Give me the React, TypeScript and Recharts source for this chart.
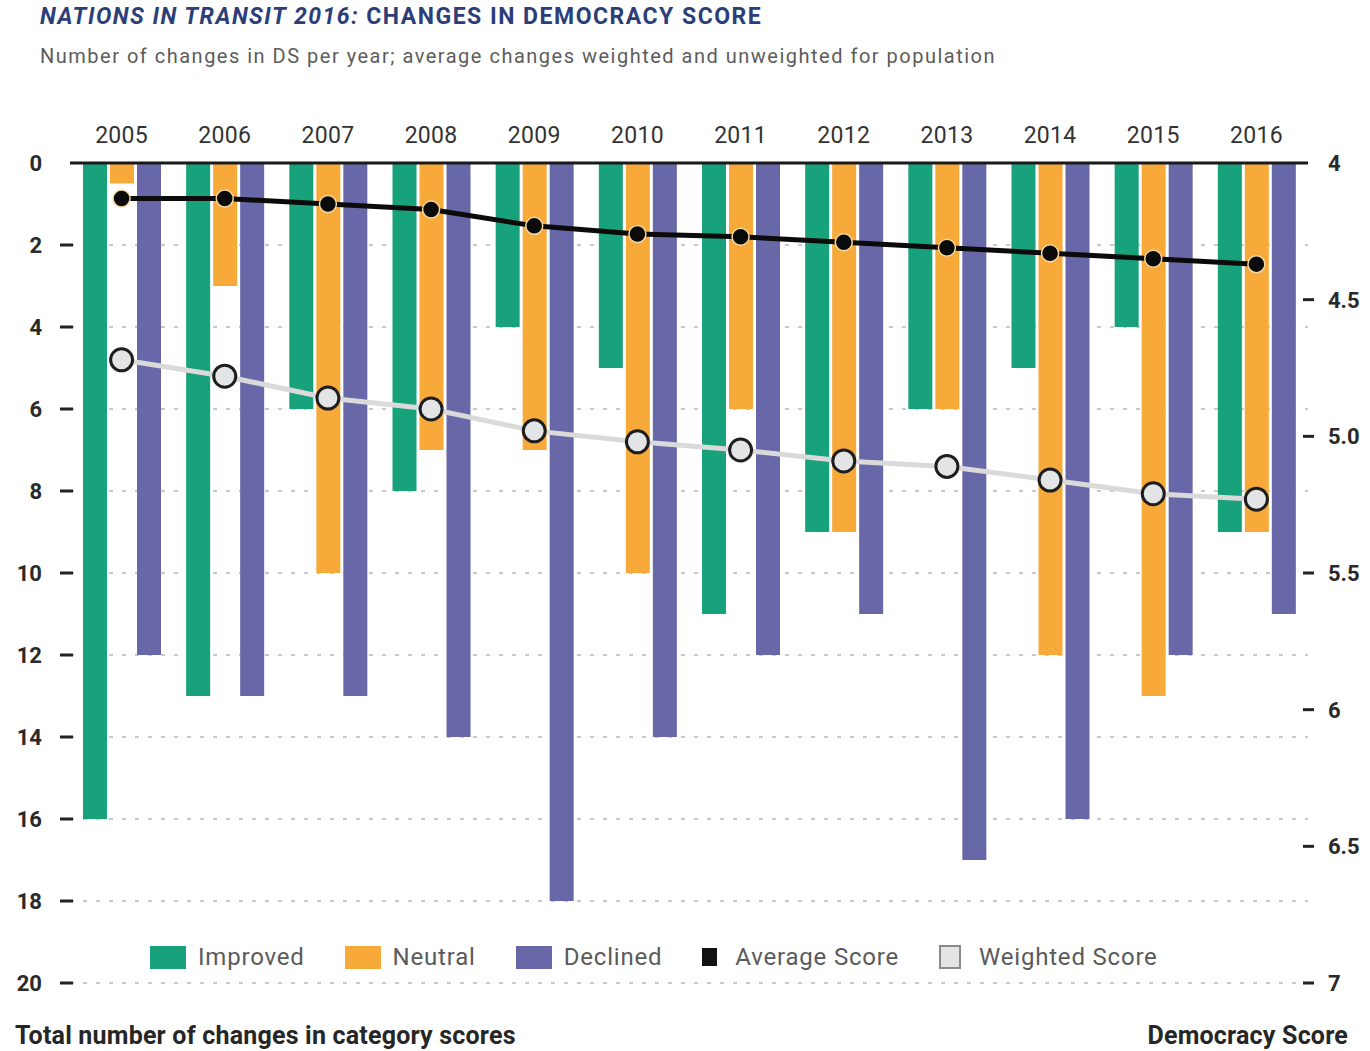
import React from "react";
import {
  Bar,
  CartesianGrid,
  ComposedChart,
  Line,
  XAxis,
  YAxis,
} from "recharts";

const years = ["2005", "2006", "2007", "2008", "2009", "2010", "2011", "2012", "2013", "2014", "2015", "2016"];
const improved = [16, 13, 6, 8, 4, 5, 11, 9, 6, 5, 4, 9];
const neutral = [0.5, 3, 10, 7, 7, 10, 6, 9, 6, 12, 13, 9];
const declined = [12, 13, 13, 14, 18, 14, 12, 11, 17, 16, 12, 11];
const averageScore = [4.13, 4.13, 4.15, 4.17, 4.23, 4.26, 4.27, 4.29, 4.31, 4.33, 4.35, 4.37];
const weightedScore = [4.72, 4.78, 4.86, 4.9, 4.98, 5.02, 5.05, 5.09, 5.11, 5.16, 5.21, 5.23];

const countTicks = [0, 2, 4, 6, 8, 10, 12, 14, 16, 18, 20];
const scoreTicks = [4, 4.5, 5, 5.5, 6, 6.5, 7];
const scoreTickLabels = ["4", "4.5", "5.0", "5.5", "6", "6.5", "7"];

const GREEN = "#17a27b";
const ORANGE = "#f7aa3a";
const PURPLE = "#6867a8";
const FONT = "Roboto, 'Open Sans', sans-serif";

const data = years.map((year, i) => ({
  year,
  improved: improved[i],
  neutral: neutral[i],
  declined: declined[i],
  average: averageScore[i],
  weighted: weightedScore[i],
}));

const legendItems = [
  { label: "Improved", kind: "bar", color: GREEN },
  { label: "Neutral", kind: "bar", color: ORANGE },
  { label: "Declined", kind: "bar", color: PURPLE },
  { label: "Average Score", kind: "avg", color: "#111" },
  { label: "Weighted Score", kind: "wtd", color: "#e4e4e4" },
];

function LeftTick(props: any) {
  const { x, y, payload } = props;
  return (
    <g>
      {payload.value !== 0 && (
        <line x1={x + 18} x2={x + 31} y1={y} y2={y} stroke="#222" strokeWidth={3} />
      )}
      <text x={x} y={y} dy={8} textAnchor="end" fontSize={22} fontWeight={700} fill="#2a2a2a" fontFamily={FONT}>
        {payload.value}
      </text>
    </g>
  );
}

function RightTick(props: any) {
  const { x, y, payload } = props;
  const idx = scoreTicks.indexOf(payload.value);
  return (
    <g>
      {payload.value !== 4 && (
        <line x1={x - 25} x2={x - 14} y1={y} y2={y} stroke="#222" strokeWidth={3} />
      )}
      <text x={x} y={y} dy={8} textAnchor="start" fontSize={22} fontWeight={700} fill="#2a2a2a" fontFamily={FONT}>
        {scoreTickLabels[idx]}
      </text>
    </g>
  );
}

function AvgDot(props: any) {
  const { cx, cy } = props;
  return <circle cx={cx} cy={cy} r={8.5} fill="#0b0b0b" stroke="#f3d9a0" strokeWidth={1.5} />;
}

function WeightedDot(props: any) {
  const { cx, cy } = props;
  return <circle cx={cx} cy={cy} r={11} fill="#e3e4e6" stroke="#1e1e1e" strokeWidth={3} />;
}

function ChartLegend() {
  return (
    <div
      style={{
        position: "absolute",
        left: 150,
        top: 943,
        display: "flex",
        alignItems: "center",
        fontFamily: FONT,
        fontSize: 24,
        color: "#5a5a5a",
        whiteSpace: "nowrap",
      }}
    >
      {legendItems.map((item) => (
        <div key={item.label} style={{ display: "flex", alignItems: "center", marginRight: 40 }}>
          {item.kind === "bar" && (
            <span style={{ width: 36, height: 23, background: item.color, marginRight: 12 }} />
          )}
          {item.kind === "avg" && (
            <span style={{ width: 15, height: 18, background: item.color, marginRight: 18 }} />
          )}
          {item.kind === "wtd" && (
            <span
              style={{
                width: 18,
                height: 20,
                background: item.color,
                border: "2px solid #8a8a8a",
                marginRight: 18,
              }}
            />
          )}
          <span style={{ letterSpacing: 0.8 }}>{item.label}</span>
        </div>
      ))}
    </div>
  );
}

export default function App() {
  return (
    <div style={{ position: "absolute", left: 0, top: 0, width: 1370, height: 1051, background: "#fff", fontFamily: FONT }}>
      <div
        style={{
          position: "absolute",
          left: 40,
          top: 3,
          fontSize: 23,
          fontWeight: 700,
          color: "#2c3e78",
          letterSpacing: 1.5,
          whiteSpace: "nowrap",
        }}
      >
        <span style={{ fontStyle: "italic" }}>NATIONS IN TRANSIT 2016:</span> CHANGES IN DEMOCRACY SCORE
      </div>
      <div
        style={{
          position: "absolute",
          left: 40,
          top: 44,
          fontSize: 20,
          color: "#5c5c5c",
          letterSpacing: 1.5,
          whiteSpace: "nowrap",
        }}
      >
        Number of changes in DS per year; average changes weighted and unweighted for population
      </div>

      <ComposedChart
        width={1370}
        height={1051}
        data={data}
        margin={{ top: 123, right: 0, bottom: 68, left: 0 }}
        barSize={24}
        barGap={3}
      >
        <CartesianGrid
          yAxisId="left"
          vertical={false}
          stroke="#c9c9c9"
          strokeWidth={2}
          strokeDasharray="4 9"
        />
        <XAxis
          dataKey="year"
          orientation="top"
          height={40}
          tickLine={false}
          tickSize={0}
          tickMargin={20}
          axisLine={{ stroke: "#1a1a1a", strokeWidth: 3 }}
          tick={{ fontSize: 23, fill: "#333", fontFamily: FONT, letterSpacing: 0.3 }}
          interval={0}
        />
        <YAxis
          yAxisId="left"
          orientation="left"
          width={70}
          domain={[0, 20]}
          ticks={countTicks}
          reversed
          axisLine={false}
          tickLine={false}
          tickSize={0}
          tickMargin={28}
          tick={<LeftTick />}
          interval={0}
        />
        <YAxis
          yAxisId="right"
          orientation="right"
          width={62}
          domain={[4, 7]}
          ticks={scoreTicks}
          reversed
          axisLine={false}
          tickLine={false}
          tickSize={0}
          tickMargin={20}
          tick={<RightTick />}
          interval={0}
        />
        <Bar yAxisId="left" dataKey="improved" name="Improved" fill={GREEN} isAnimationActive={false} />
        <Bar yAxisId="left" dataKey="neutral" name="Neutral" fill={ORANGE} isAnimationActive={false} />
        <Bar yAxisId="left" dataKey="declined" name="Declined" fill={PURPLE} isAnimationActive={false} />
        <Line
          yAxisId="right"
          dataKey="weighted"
          name="Weighted Score"
          stroke="#dadada"
          strokeWidth={5}
          dot={<WeightedDot />}
          activeDot={false}
          isAnimationActive={false}
        />
        <Line
          yAxisId="right"
          dataKey="average"
          name="Average Score"
          stroke="#0b0b0b"
          strokeWidth={5}
          dot={<AvgDot />}
          activeDot={false}
          isAnimationActive={false}
        />
      </ComposedChart>

      <ChartLegend />

      <div
        style={{
          position: "absolute",
          left: 15,
          top: 1021,
          fontSize: 25,
          fontWeight: 700,
          color: "#262626",
          letterSpacing: 0.2,
          whiteSpace: "nowrap",
        }}
      >
        Total number of changes in category scores
      </div>
      <div
        style={{
          position: "absolute",
          right: 22,
          top: 1021,
          fontSize: 25,
          fontWeight: 700,
          color: "#262626",
          letterSpacing: 0.2,
          whiteSpace: "nowrap",
        }}
      >
        Democracy Score
      </div>
    </div>
  );
}
